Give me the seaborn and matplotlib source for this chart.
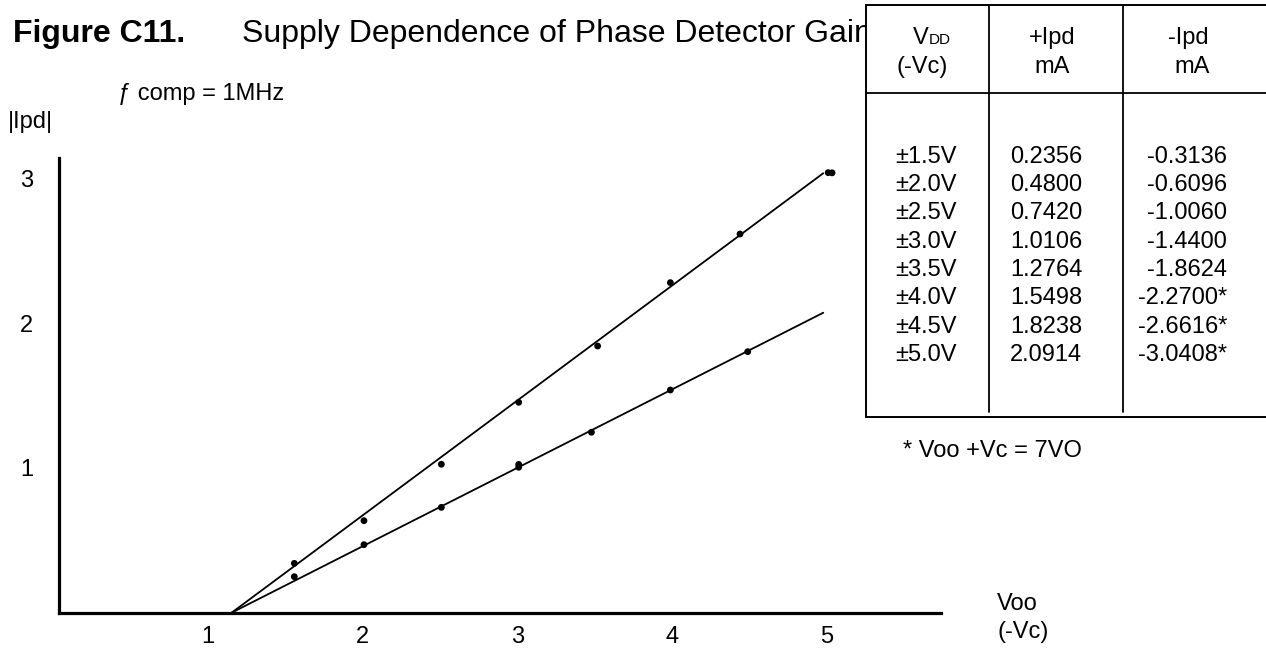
import matplotlib
matplotlib.use("Agg")
import matplotlib.pyplot as plt
import seaborn as sns
from matplotlib.patches import Rectangle
from matplotlib.lines import Line2D

# ---- data ----
neg_x = [1.56, 2.01, 2.51, 3.01, 3.52, 3.99, 4.44, 5.01, 5.035]
neg_y = [0.341, 0.636, 1.026, 1.454, 1.843, 2.281, 2.617, 3.041, 3.040]
pos_x = [1.56, 2.01, 2.51, 3.01, 3.01, 3.48, 3.99, 4.49]
pos_y = [0.249, 0.470, 0.728, 1.005, 1.025, 1.247, 1.539, 1.804]
neg_fit_x = [1.155, 4.978]
neg_fit_y = [0.0, 3.037]
pos_fit_x = [1.155, 4.978]
pos_fit_y = [0.0, 2.073]
x_ticks = [1, 2, 3, 4, 5]
y_ticks = [1, 2, 3]

tbl_vdd = ["±1.5V", "±2.0V", "±2.5V", "±3.0V", "±3.5V", "±4.0V", "±4.5V", "±5.0V"]
tbl_pos = ["0.2356", "0.4800", "0.7420", "1.0106", "1.2764", "1.5498", "1.8238", "2.0914"]
tbl_neg = ["-0.3136", "-0.6096", "-1.0060", "-1.4400", "-1.8624", "-2.2700*", "-2.6616*", "-3.0408*"]

sns.set_style("white")
plt.rcParams['font.family'] = ['Liberation Sans', 'DejaVu Sans']
plt.rcParams['text.color'] = 'black'

W, H = 1266, 648
fig = plt.figure(figsize=(W / 100, H / 100), dpi=100)
fig.patch.set_facecolor("white")

def fx(x):
    return x / W

def fy(y):
    return 1 - y / H

# axes: x 0..6 -> px 52.9..981.4 ; y 0..3.5 -> px 612.7..106.25
ax = fig.add_axes([52.9 / W, (H - 612.7) / H, 928.5 / W, 506.45 / H])
ax.set_facecolor("none")

sns.lineplot(x=neg_fit_x, y=neg_fit_y, ax=ax, color="black", linewidth=1.3)
sns.lineplot(x=pos_fit_x, y=pos_fit_y, ax=ax, color="black", linewidth=1.3)
sns.scatterplot(x=neg_x, y=neg_y, ax=ax, color="black", s=24, edgecolor="none")
sns.scatterplot(x=pos_x, y=pos_y, ax=ax, color="black", s=24, edgecolor="none")

ax.set_xlim(0, 6)
ax.set_ylim(0, 3.5)
for s in ["top", "right"]:
    ax.spines[s].set_visible(False)
ax.spines["left"].set_position(("data", 0.04))
ax.spines["left"].set_bounds(0, 3.14)
ax.spines["bottom"].set_position(("data", 0))
ax.spines["bottom"].set_bounds(0.04, 5.74)
for s in ["left", "bottom"]:
    ax.spines[s].set_linewidth(2.3)
    ax.spines[s].set_color("black")
    ax.spines[s].set_capstyle("projecting")

ax.set_xticks(x_ticks)
ax.set_yticks(y_ticks)
ax.set_xticklabels([str(t) for t in x_ticks])
ax.set_yticklabels([str(t) for t in y_ticks])
ax.tick_params(axis="both", direction="inout", length=9, width=1.0, color="black",
               labelsize=17, labelcolor="black")
ax.tick_params(axis="y", pad=14)
ax.tick_params(axis="x", pad=5)
ax.set_xlabel("")
ax.set_ylabel("")

# ---- title and annotations ----
fig.text(fx(13), fy(42), "Figure C11.", fontsize=23, fontweight="bold", va="baseline", ha="left")
fig.text(fx(242), fy(42), "Supply Dependence of Phase Detector Gain", fontsize=23,
         va="baseline", ha="left")
fig.text(fx(8), fy(128), "|Ipd|", fontsize=17, va="baseline", ha="left")
fig.text(fx(118), fy(100), "ƒ comp = 1MHz", fontsize=17, va="baseline", ha="left")
fig.text(fx(903), fy(457), "* Voo +Vc = 7VO", fontsize=17, va="baseline", ha="left")
fig.text(fx(997), fy(610), "Voo", fontsize=17, va="baseline", ha="left")
fig.text(fx(997), fy(638), "(-Vc)", fontsize=17, va="baseline", ha="left")

# ---- table ----
fig.add_artist(Rectangle((fx(866), fy(417)), (1275 - 866) / W, (417 - 5) / H,
                         transform=fig.transFigure, facecolor="white", edgecolor="black",
                         linewidth=1.4, zorder=5))
for xv in [989.3, 1122.7]:
    fig.add_artist(Line2D([fx(xv), fx(xv)], [fy(5), fy(411.7)], transform=fig.transFigure,
                          color="black", linewidth=1.3, zorder=6))
fig.add_artist(Line2D([fx(866), fx(1266)], [fy(93.3), fy(93.3)], transform=fig.transFigure,
                      color="black", linewidth=1.3, zorder=6))

tk = dict(fontsize=17, va="baseline", zorder=7)
fig.text(fx(913), fy(44), "V", ha="left", **tk)
fig.text(fx(928.5), fy(44), "DD", ha="left", fontsize=11, va="baseline", zorder=7)
fig.text(fx(922), fy(73), "(-Vc)", ha="center", **tk)
fig.text(fx(1051.7), fy(44), "+Ipd", ha="center", **tk)
fig.text(fx(1051.7), fy(73), "mA", ha="center", **tk)
fig.text(fx(1188), fy(44), "-Ipd", ha="center", **tk)
fig.text(fx(1192), fy(73), "mA", ha="center", **tk)

for i, (a, b, c) in enumerate(zip(tbl_vdd, tbl_pos, tbl_neg)):
    yb = 162.7 + i * 28.33
    fig.text(fx(895), fy(yb), a, ha="left", **tk)
    fig.text(fx(1010), fy(yb), b, ha="left", **tk)
    fig.text(fx(1227), fy(yb), c, ha="right", **tk)

fig.savefig("out.png", dpi=100, facecolor="white")
